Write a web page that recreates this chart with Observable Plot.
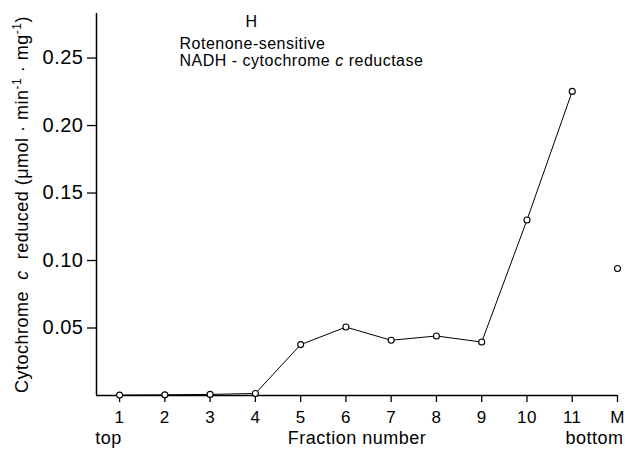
<!DOCTYPE html>
<html><head><meta charset="utf-8">
<script src="https://cdn.jsdelivr.net/npm/d3@7"></script>
<script src="https://cdn.jsdelivr.net/npm/@observablehq/plot@0.6"></script>
<style>body{margin:0;background:#fff;} svg{display:block;}</style>
</head><body><div id="chart"></div>
<script>
// ---- data ----
const fractions = [1, 2, 3, 4, 5, 6, 7, 8, 9, 10, 11];
const activity = [0.0003, 0.0005, 0.0008, 0.0015, 0.0377, 0.0507, 0.0409, 0.0441, 0.0396, 0.130, 0.2253];
const membranePos = [12];
const membraneActivity = [0.0941];
const xTicks = [1, 2, 3, 4, 5, 6, 7, 8, 9, 10, 11, 12];
const xTickLabels = ["1", "2", "3", "4", "5", "6", "7", "8", "9", "10", "11", "M"];
const yTicks = [0.05, 0.10, 0.15, 0.20, 0.25];
const yTickLabels = ["0.05", "0.10", "0.15", "0.20", "0.25"];
const panelTitle = "H";
const subtitleLines = ["Rotenone-sensitive", "NADH - cytochrome c reductase"];
const subtitleParts = [["NADH - cytochrome ", "n"], ["c", "i"], [" reductase", "n"]];
const xAxisLabel = "Fraction number";
const yLabelParts = [["Cytochrome  ", "n"], ["c", "i"], ["  reduced (μmol · min", "n"], ["-1", "s"], [" · mg", "n"], ["-1", "s"], [")", "n"]];
const yAxisLabel = yLabelParts.map(p => p[0]).join("");
const endLabels = ["top", "bottom"];

const gradient = fractions.map((f, i) => ({fraction: f, activity: activity[i]}));
const membrane = membranePos.map((f, i) => ({fraction: f, activity: membraneActivity[i]}));

const font = "'Liberation Sans', Arial, Helvetica, sans-serif";

const chart = Plot.plot({
  width: 625, height: 451,
  marginLeft: 96, marginRight: 8, marginTop: 13, marginBottom: 56,
  style: {fontFamily: font, color: "#000", background: "#fff", overflow: "visible"},
  x: {type: "linear", domain: [0.49, 12]},
  y: {domain: [0, 0.283]},
  marks: [
    Plot.axisY({ticks: yTicks, tickFormat: d => yTickLabels[yTicks.indexOf(d)], tickSize: 9, tickPadding: 4, fontSize: 20, label: null, strokeWidth: 1.3}),
    Plot.axisX({ticks: xTicks, tickFormat: d => xTickLabels[xTicks.indexOf(d)], tickSize: 7, tickPadding: 8, fontSize: 17, label: null, strokeWidth: 1.3}),
    Plot.ruleY([0], {stroke: "black", strokeWidth: 1.5}),
    Plot.ruleX([0.49], {stroke: "black", strokeWidth: 1.5}),
    Plot.line(gradient, {x: "fraction", y: "activity", stroke: "black", strokeWidth: 1}),
    Plot.dot([...gradient, ...membrane], {x: "fraction", y: "activity", r: 3, fill: "white", stroke: "black", strokeWidth: 1.1}),
    Plot.text([yAxisLabel], {text: d => d, frameAnchor: "left", textAnchor: "middle", lineAnchor: "middle", rotate: -90, dx: -74, fontSize: 18, fill: "black"}),
    Plot.text([panelTitle], {text: d => d, frameAnchor: "top-left", dx: 155, dy: 2, lineAnchor: "top", textAnchor: "middle", fontSize: 16, fill: "black"}),
    Plot.text([subtitleLines[0]], {text: d => d, frameAnchor: "top-left", dx: 83, dy: 24, lineAnchor: "top", textAnchor: "start", fontSize: 16, fill: "black"}),
    Plot.text([subtitleLines[1]], {text: d => d, frameAnchor: "top-left", dx: 83, dy: 41, lineAnchor: "top", textAnchor: "start", fontSize: 16, fill: "black"}),
    Plot.text([xAxisLabel], {text: d => d, frameAnchor: "bottom", dy: 48, lineAnchor: "bottom", textAnchor: "middle", fontSize: 18, fill: "black"}),
    Plot.text([endLabels[0]], {text: d => d, x: [1], frameAnchor: "bottom", dx: -11, dy: 48, lineAnchor: "bottom", textAnchor: "middle", fontSize: 18, fill: "black"}),
    Plot.text([endLabels[1]], {text: d => d, x: [12], frameAnchor: "bottom", dx: 6, dy: 48, lineAnchor: "bottom", textAnchor: "end", fontSize: 18, fill: "black"})
  ]
});

document.getElementById("chart").appendChild(chart);

function rebuild(el, parts, supSize) {
  const t = d3.select(el);
  t.text(null);
  parts.forEach(([s, kind]) => {
    const sp = t.append("tspan").text(s);
    if (kind === "i") sp.attr("font-style", "italic");
    if (kind === "s") { sp.attr("font-size", supSize).attr("baseline-shift", "super"); }
  });
}
d3.select(chart).selectAll("text").each(function () {
  const s = this.textContent;
  if (s === yAxisLabel) { rebuild(this, yLabelParts, 12); d3.select(this).attr("text-anchor", "middle"); }
  else if (s === subtitleLines[1]) rebuild(this, subtitleParts, 11);
});
d3.select(chart).selectAll("text").style("letter-spacing", "0.5px");
</script>
</body></html>
